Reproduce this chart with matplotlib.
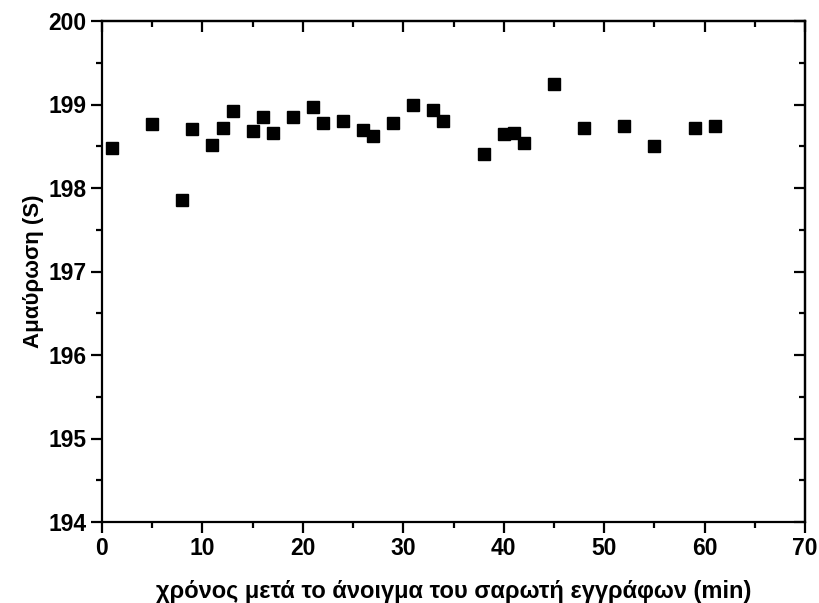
import matplotlib
matplotlib.use('Agg')
from matplotlib import pyplot as plt
from matplotlib.ticker import MultipleLocator

plt.rcParams['font.family'] = ['Liberation Sans', 'DejaVu Sans']
plt.rcParams['font.weight'] = 'bold'

minutes = [1, 5, 8, 9, 11, 12, 13, 15, 16, 17, 19, 21, 22, 24, 26, 27, 29,
           31, 33, 34, 38, 40, 41, 42, 45, 48, 52, 55, 59, 61]
dimming = [198.48, 198.77, 197.86, 198.71, 198.52, 198.72, 198.92, 198.68,
           198.85, 198.66, 198.85, 198.97, 198.78, 198.80, 198.69, 198.62,
           198.78, 198.99, 198.93, 198.80, 198.41, 198.65, 198.66, 198.54,
           199.24, 198.72, 198.74, 198.50, 198.72, 198.74]


def main():
    fig = plt.figure(figsize=(8.19, 6.03), dpi=100)
    ax = fig.add_axes([102 / 819, 1 - 522 / 603, (805 - 102) / 819, (522 - 21) / 603])

    ax.plot(minutes, dimming, 's', color='black', markersize=8.5, linestyle='none')

    ax.set_xlim(0, 70)
    ax.set_ylim(194, 200)
    ax.xaxis.set_major_locator(MultipleLocator(10))
    ax.xaxis.set_minor_locator(MultipleLocator(5))
    ax.yaxis.set_major_locator(MultipleLocator(1))
    ax.yaxis.set_minor_locator(MultipleLocator(0.5))

    for s in ax.spines.values():
        s.set_linewidth(1.6)

    ax.tick_params(which='both', direction='out', width=1.6, labelsize=16.5)
    ax.tick_params(which='major', length=8)
    ax.tick_params(which='minor', length=4.5)
    ax.tick_params(axis='x', pad=3)
    ax.tick_params(axis='y', pad=3)

    # mirrored ticks pointing inward on top and right
    top = ax.secondary_xaxis('top')
    top.xaxis.set_major_locator(MultipleLocator(10))
    top.xaxis.set_minor_locator(MultipleLocator(5))
    top.tick_params(which='both', direction='in', width=1.6, labelbottom=False, labeltop=False)
    top.tick_params(which='major', length=8)
    top.tick_params(which='minor', length=4.5)
    top.spines['top'].set_linewidth(1.6)
    right = ax.secondary_yaxis('right')
    right.yaxis.set_major_locator(MultipleLocator(1))
    right.yaxis.set_minor_locator(MultipleLocator(0.5))
    right.tick_params(which='both', direction='in', width=1.6, labelleft=False, labelright=False)
    right.tick_params(which='major', length=8)
    right.tick_params(which='minor', length=4.5)
    right.spines['right'].set_linewidth(1.6)

    ax.set_xlabel('χρόνος μετά το άνοιγμα του σαρωτή εγγράφων (min)', fontsize=17,
                  fontweight='bold', labelpad=14)
    ax.set_ylabel('Αμαύρωση (S)', fontsize=16, fontweight='bold', labelpad=3)

    fig.savefig('out.png', dpi=100)


if __name__ == '__main__':
    main()
